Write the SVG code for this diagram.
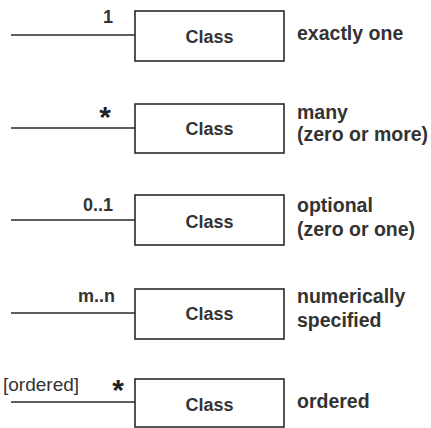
<svg xmlns="http://www.w3.org/2000/svg" width="431" height="428" viewBox="0 0 431 428">
<style>
.box{fill:#fff;stroke:#2a2a2a;stroke-width:1.6}
.ln{stroke:#2a2a2a;stroke-width:1.6;fill:none}
text{font-family:"Liberation Sans",Arial,sans-serif;fill:#333;font-weight:bold;font-size:18px}
.c{text-anchor:middle}
.e{text-anchor:end}
.lbl{font-size:19.5px}
.star{font-size:30px;text-anchor:middle;fill:#222}
.reg{font-weight:normal;font-size:19px}
</style>
<rect width="431" height="428" fill="#fff"/>
<g id="connectors">
<line class="ln" x1="11" y1="35" x2="135" y2="35"/>
<line class="ln" x1="11" y1="128" x2="135" y2="128"/>
<line class="ln" x1="11" y1="220" x2="135" y2="220"/>
<line class="ln" x1="11" y1="313" x2="135" y2="313"/>
<line class="ln" x1="11" y1="402" x2="135" y2="402"/>
<text class="e" x="113" y="23">1</text>
<text class="star" x="105" y="127">*</text>
<text class="e" x="113" y="211">0..1</text>
<text class="e" x="115" y="302">m..n</text>
<text class="reg" x="3" y="391">[ordered]</text>
<text class="star" x="118" y="400">*</text>
</g>
<g id="node1">
<rect class="box" x="135" y="11" width="149" height="50"/>
<text class="c" x="209.5" y="43">Class</text>
<text class="lbl" x="297" y="40">exactly one</text>
</g>
<g id="node2">
<rect class="box" x="135" y="104" width="149" height="49"/>
<text class="c" x="209.5" y="135">Class</text>
<text class="lbl" x="297" y="119">many</text>
<text class="lbl" x="297" y="141">(zero or more)</text>
</g>
<g id="node3">
<rect class="box" x="135" y="195" width="149" height="50"/>
<text class="c" x="209.5" y="228">Class</text>
<text class="lbl" x="297" y="212">optional</text>
<text class="lbl" x="297" y="236">(zero or one)</text>
</g>
<g id="node4">
<rect class="box" x="135" y="289" width="149" height="50"/>
<text class="c" x="209.5" y="320">Class</text>
<text class="lbl" x="297" y="303">numerically</text>
<text class="lbl" x="297" y="327">specified</text>
</g>
<g id="node5">
<rect class="box" x="135" y="379" width="149" height="48"/>
<text class="c" x="209.5" y="411">Class</text>
<text class="lbl" x="297" y="408">ordered</text>
</g>
</svg>
